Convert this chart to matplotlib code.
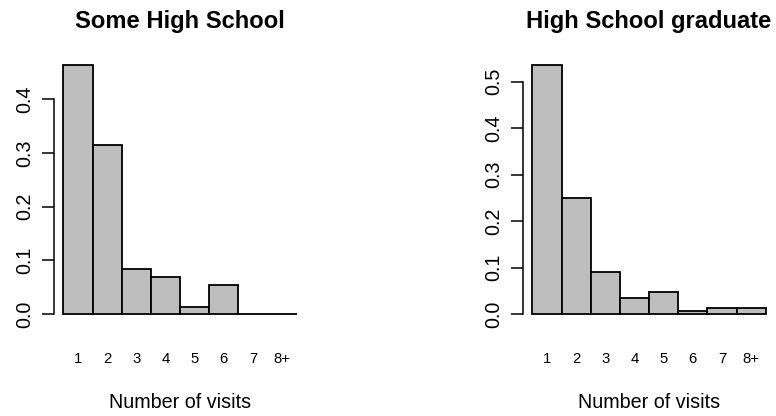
import numpy as np
import matplotlib
matplotlib.use("Agg")
import matplotlib.pyplot as plt

plt.rcParams['font.family'] = ['Liberation Sans', 'DejaVu Sans']

#%% Data (proportions)
visits = ['1', '2', '3', '4', '5', '6', '7', '8+']
some_hs = [0.463, 0.314, 0.083, 0.069, 0.014, 0.055, 0.0, 0.0]
hs_grad = [0.535, 0.249, 0.090, 0.034, 0.047, 0.007, 0.013, 0.013]
titles = ['Some High School', 'High School graduate']
yticks_list = [[0.0, 0.1, 0.2, 0.3, 0.4], [0.0, 0.1, 0.2, 0.3, 0.4, 0.5]]

W, H = 776, 416
fig = plt.figure(figsize=(W / 100, H / 100), dpi=100)

#%% Panel positions in pixels (left, right of plot region), shared top/bottom
panels = [(54, 306), (523, 775)]
top, bottom = 55.4, 324

for (x0, x1), vals, title, yt in zip(panels, [some_hs, hs_grad], titles, yticks_list):
    ax = fig.add_axes([x0 / W, (H - bottom) / H, (x1 - x0) / W, (bottom - top) / H])
    n = len(vals)
    centers = np.arange(n) + 0.5
    ax.bar(centers, vals, width=1.0, color='#bebebe', edgecolor='black', linewidth=1.3)
    ax.set_xlim(-0.04 * n, n * 1.04)
    ymax = max(vals)
    ax.set_ylim(-0.04 * ymax, 1.04 * ymax)

    for s in ['top', 'right', 'bottom']:
        ax.spines[s].set_visible(False)
    ax.spines['left'].set_bounds(yt[0], yt[-1])
    ax.spines['left'].set_linewidth(1.1)

    ax.set_yticks(yt)
    ax.set_yticklabels(['%.1f' % v for v in yt], rotation=90, va='center', fontsize=14.2)
    ax.tick_params(axis='y', direction='out', length=8.5, width=1.1, pad=6)

    ax.set_xticks(centers)
    ax.set_xticklabels(visits, fontsize=10.7)
    ax.tick_params(axis='x', length=0, pad=20.5)

    ax.set_xlabel('Number of visits', fontsize=14.2, labelpad=19)
    ax.set_title(title, fontsize=17.1, fontweight='bold', pad=20)

fig.savefig('out.png', dpi=100)
